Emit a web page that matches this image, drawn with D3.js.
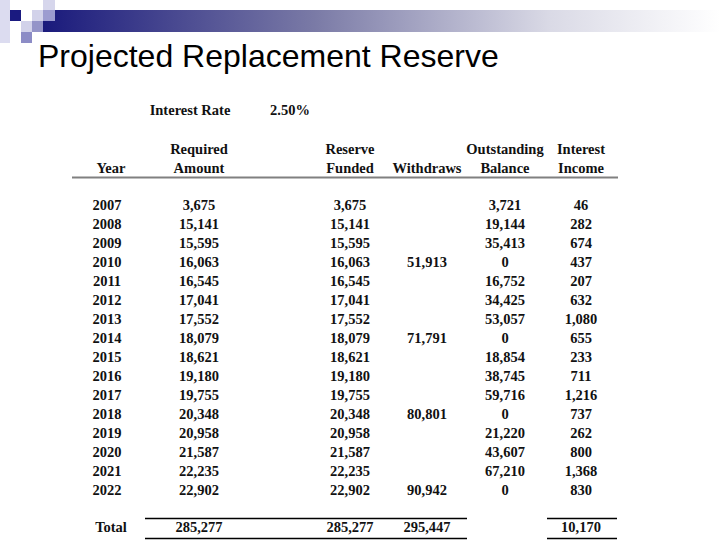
<!DOCTYPE html>
<html>
  <head>
    <meta charset="utf-8">
    <title>Projected Replacement Reserve</title>
    <style>
      body { margin: 0; background: #fff; }
      .cell { font-family: "Liberation Serif", "Times New Roman", serif; font-weight: bold; font-size: 14.5px; fill: #111; }
      .title { font-family: "Liberation Sans", Arial, sans-serif; font-size: 32px; fill: #000; }
    </style>
  </head>
  <body>
    <script src="https://d3js.org/d3.v7.min.js"></script>
    <script>
        // table values
        var years = [2007, 2008, 2009, 2010, 2011, 2012, 2013, 2014, 2015, 2016, 2017, 2018, 2019, 2020, 2021, 2022];
        var required = [3675, 15141, 15595, 16063, 16545, 17041, 17552, 18079, 18621, 19180, 19755, 20348, 20958, 21587, 22235, 22902];
        var funded = [3675, 15141, 15595, 16063, 16545, 17041, 17552, 18079, 18621, 19180, 19755, 20348, 20958, 21587, 22235, 22902];
        var withdraws = [null, null, null, 51913, null, null, null, 71791, null, null, null, 80801, null, null, null, 90942];
        var balance = [3721, 19144, 35413, 0, 16752, 34425, 53057, 0, 18854, 38745, 59716, 0, 21220, 43607, 67210, 0];
        var interest = [46, 282, 674, 437, 207, 632, 1080, 655, 233, 711, 1216, 737, 262, 800, 1368, 830];
        var totals = {required: 285277, funded: 285277, withdraws: 295447, interest: 10170};
        var interestRate = "2.50%";

        var columns = ["year", "required", "funded", "withdraws", "balance", "interest"];
        var headerTop = ["", "Required", "Reserve", "", "Outstanding", "Interest"];
        var headerBottom = ["Year", "Amount", "Funded", "Withdraws", "Balance", "Income"];

        var width = 720, height = 540;
        var fmt = d3.format(",");

        var svg = d3.select("body").append("svg")
            .attr("width", width)
            .attr("height", height);

        // header band + little squares in the corner
        var defs = svg.append("defs");
        var grad = defs.append("linearGradient").attr("id", "band")
            .attr("x1", "0%").attr("x2", "100%").attr("y1", "0%").attr("y2", "0%");
        grad.append("stop").attr("offset", "0%").attr("stop-color", "#1a1a7c");
        grad.append("stop").attr("offset", "40%").attr("stop-color", "#7a7aa6");
        grad.append("stop").attr("offset", "75%").attr("stop-color", "#dadae6");
        grad.append("stop").attr("offset", "100%").attr("stop-color", "#ffffff");

        svg.append("rect").attr("x", 43).attr("y", 10).attr("width", 677).attr("height", 22)
            .attr("fill", "url(#band)");

        var squares = [
          [0, 0, 10, 43, "#dcdcf0"],
          [10, 10, 11, 11, "#1a1a80"],
          [32, 10, 11, 11, "#d2d2ea"],
          [43, 0, 12, 10, "#d6d6ec"],
          [43, 10, 12, 11, "#9c9cd0"],
          [21, 21, 11, 11, "#d2d2ea"],
          [32, 21, 11, 11, "#9494c8"],
          [21, 32, 11, 11, "#8c8cc6"]
        ];
        svg.selectAll(".sq").data(squares).enter().append("rect")
            .attr("class", "sq")
            .attr("x", function(d) { return d[0]; })
            .attr("y", function(d) { return d[1]; })
            .attr("width", function(d) { return d[2]; })
            .attr("height", function(d) { return d[3]; })
            .attr("fill", function(d) { return d[4]; });

        svg.append("text").attr("class", "title")
            .attr("x", 38).attr("y", 67)
            .text("Projected Replacement Reserve");

        // scales
        var x = d3.scaleOrdinal()
            .domain(columns)
            .range([107, 199, 350, 427, 505, 581]);
        var y = d3.scaleBand()
            .domain(years)
            .range([195.5, 499.5])
            .padding(0);

        // interest rate line
        svg.append("text").attr("class", "cell")
            .attr("x", 190).attr("y", 115).attr("text-anchor", "middle").text("Interest Rate");
        svg.append("text").attr("class", "cell")
            .attr("x", 290).attr("y", 115).attr("text-anchor", "middle").text(interestRate);

        // column headers
        svg.selectAll(".h1").data(columns).enter().append("text")
            .attr("class", "cell")
            .attr("x", function(d) { return x(d); })
            .attr("y", 154)
            .attr("text-anchor", "middle")
            .text(function(d, i) { return headerTop[i]; });
        svg.selectAll(".h2").data(columns).enter().append("text")
            .attr("class", "cell")
            .attr("x", function(d) { return d === "year" ? x(d) + 4 : x(d); })
            .attr("y", 173)
            .attr("text-anchor", "middle")
            .text(function(d, i) { return headerBottom[i]; });

        svg.append("line")
            .attr("x1", 72).attr("x2", 618).attr("y1", 177.5).attr("y2", 177.5)
            .attr("stroke", "#808080").attr("stroke-width", 2);

        // body rows
        var rows = years.map(function(yr, i) {
          return {year: yr, required: required[i], funded: funded[i], withdraws: withdraws[i],
                  balance: balance[i], interest: interest[i]};
        });

        var rowG = svg.selectAll(".row").data(rows).enter().append("g")
            .attr("class", "row")
            .attr("transform", function(d) { return "translate(0," + (y(d.year) + y.bandwidth() / 2 + 5) + ")"; });

        rowG.selectAll("text")
            .data(function(d) {
              return columns.map(function(c) { return {col: c, v: d[c]}; })
                            .filter(function(e) { return e.v !== null; });
            })
            .enter().append("text")
            .attr("class", "cell")
            .attr("x", function(e) { return x(e.col); })
            .attr("text-anchor", "middle")
            .text(function(e) { return e.col === "year" ? e.v : fmt(e.v); });

        // totals
        var totalY = 532;
        svg.append("text").attr("class", "cell")
            .attr("x", x("year") + 4).attr("y", totalY).attr("text-anchor", "middle").text("Total");
        ["required", "funded", "withdraws", "interest"].forEach(function(c) {
          svg.append("text").attr("class", "cell")
              .attr("x", x(c)).attr("y", totalY).attr("text-anchor", "middle").text(fmt(totals[c]));
        });

        var rules = [[145, 467], [547, 617]];
        [518.5, 538.5].forEach(function(ly) {
          rules.forEach(function(r) {
            svg.append("line")
                .attr("x1", r[0]).attr("x2", r[1]).attr("y1", ly).attr("y2", ly)
                .attr("stroke", "#000").attr("stroke-width", 1.5);
          });
        });
    </script>
  </body>
</html>
